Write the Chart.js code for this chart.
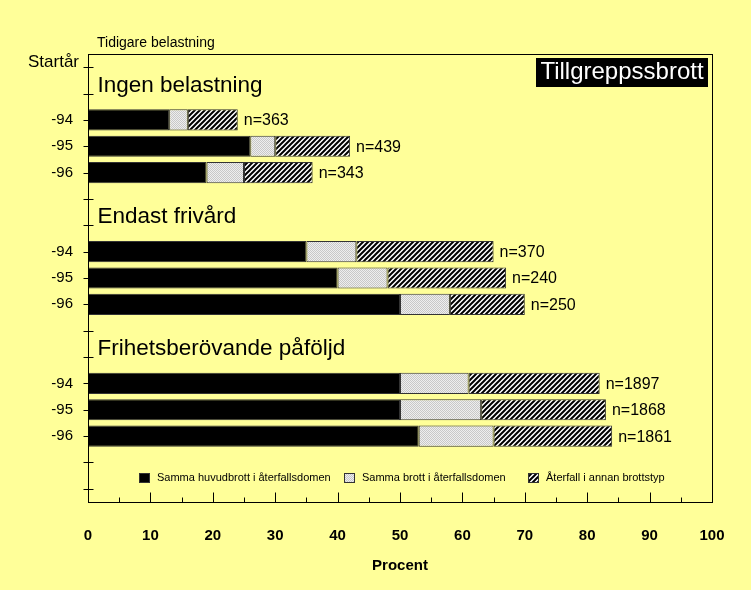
<!DOCTYPE html>
<html>
<head>
<meta charset="utf-8">
<script src="https://cdn.jsdelivr.net/npm/chart.js@4.4.1/dist/chart.umd.min.js"></script>
<style>
  body { margin: 0; background: #ffff99; }
  canvas { display: block; }
</style>
</head>
<body>
<canvas id="chart" width="751" height="590"></canvas>
<script>
const FONT = '"Liberation Sans", Arial, sans-serif';

// rows from top to bottom, the blank rows carry the group headings
const yearLabels = ['', '', '-94', '-95', '-96', '', '', '-94', '-95', '-96', '', '', '-94', '-95', '-96', '', ''];
const sammaHuvudbrott = [null, null, 13, 26, 19, null, null, 35, 40, 50, null, null, 50, 50, 53, null, null];
const sammaBrott = [null, null, 3, 4, 6, null, null, 8, 8, 8, null, null, 11, 13, 12, null, null];
const annanBrottstyp = [null, null, 8, 12, 11, null, null, 22, 19, 12, null, null, 21, 20, 19, null, null];
const nValues = [null, null, 363, 439, 343, null, null, 370, 240, 250, null, null, 1897, 1868, 1861, null, null];
const groupTitles = ['Ingen belastning', 'Endast frivård', 'Frihetsberövande påföljd'];
const groupRows = [1, 6, 11];
const seriesNames = ['Samma huvudbrott i återfallsdomen', 'Samma brott i återfallsdomen', 'Återfall i annan brottstyp'];

function dotPattern() {
  const c = document.createElement('canvas');
  c.width = 2; c.height = 2;
  const g = c.getContext('2d');
  g.fillStyle = '#eeeeee';
  g.fillRect(0, 0, 2, 2);
  g.fillStyle = '#c8c8c8';
  g.fillRect(0, 0, 1, 1);
  g.fillRect(1, 1, 1, 1);
  return g.createPattern(c, 'repeat');
}

function hatchPattern() {
  const s = 5;
  const c = document.createElement('canvas');
  c.width = s; c.height = s;
  const g = c.getContext('2d');
  g.fillStyle = '#ffffff';
  g.fillRect(0, 0, s, s);
  g.strokeStyle = '#000';
  g.lineWidth = 2;
  g.beginPath();
  g.moveTo(0, s); g.lineTo(s, 0);
  g.moveTo(-1, 1); g.lineTo(1, -1);
  g.moveTo(s - 1, s + 1); g.lineTo(s + 1, s - 1);
  g.stroke();
  return g.createPattern(c, 'repeat');
}

const fills = ['#000000', dotPattern(), hatchPattern()];

function line(g, x1, y1, x2, y2) {
  g.beginPath();
  g.moveTo(x1, y1);
  g.lineTo(x2, y2);
  g.stroke();
}

// background, frame, ticks, headings, n= labels and the legend
const decor = {
  id: 'decor',
  beforeDraw(chart) {
    const g = chart.ctx;
    g.save();
    g.fillStyle = '#ffff99';
    g.fillRect(0, 0, chart.width, chart.height);
    g.restore();
  },
  afterDraw(chart) {
    const g = chart.ctx;
    const a = chart.chartArea;
    const x = chart.scales.x;
    const y = chart.scales.y;
    g.save();
    g.strokeStyle = '#000';
    g.lineWidth = 1;
    const L = Math.round(a.left) + 0.5, R = Math.round(a.right) + 0.5;
    const T = Math.round(a.top) + 0.5, B = Math.round(a.bottom) + 0.5;
    g.strokeRect(L, T, R - L, B - T);

    for (let i = 0; i < yearLabels.length; i++) {
      const py = Math.round(y.getPixelForValue(i)) + 0.5;
      line(g, L - 5, py, L + 5, py);
    }
    for (let v = 5; v < 100; v += 5) {
      const px = Math.round(x.getPixelForValue(v)) + 0.5;
      line(g, px, B, px, B - (v % 10 === 0 ? 10 : 5));
    }

    g.fillStyle = '#000';
    g.font = '14px ' + FONT;
    g.textAlign = 'left';
    g.textBaseline = 'alphabetic';
    g.fillText('Tidigare belastning', 97, 47);

    g.font = '17px ' + FONT;
    g.textAlign = 'right';
    g.textBaseline = 'middle';
    g.fillText('Startår', 79, y.getPixelForValue(0) - 5);

    g.font = '22.5px ' + FONT;
    g.textAlign = 'left';
    g.textBaseline = 'alphabetic';
    groupTitles.forEach((t, k) => {
      g.fillText(t, L + 9, y.getPixelForValue(groupRows[k]) - 2);
    });

    // title box
    g.fillStyle = '#000';
    g.fillRect(536, 58, 172, 29);
    g.fillStyle = '#fff';
    g.font = '24px ' + FONT;
    g.textAlign = 'center';
    g.fillText('Tillgreppssbrott', 622, 79);

    // n= labels at the end of each bar
    const last = chart.getDatasetMeta(2).data;
    g.fillStyle = '#000';
    g.font = '16px ' + FONT;
    g.textAlign = 'left';
    g.textBaseline = 'middle';
    nValues.forEach((n, i) => {
      if (n === null) return;
      g.fillText('n=' + n, last[i].x + 6, last[i].y + 1);
    });

    // x axis title
    g.font = 'bold 15px ' + FONT;
    g.textAlign = 'center';
    g.fillText('Procent', (a.left + a.right) / 2, 566);

    // legend
    const legendX = [139, 344, 528];
    const ly = 478;
    g.font = '11px ' + FONT;
    g.textAlign = 'left';
    g.textBaseline = 'middle';
    seriesNames.forEach((name, k) => {
      g.fillStyle = fills[k];
      g.fillRect(legendX[k], ly - 5, 11, 10);
      g.strokeStyle = '#333';
      g.strokeRect(legendX[k] + 0.5, ly - 4.5, 10, 9);
      g.fillStyle = '#000';
      g.fillText(name, legendX[k] + 18, ly);
    });
    g.restore();
  }
};

new Chart(document.getElementById('chart'), {
  type: 'bar',
  data: {
    labels: yearLabels,
    datasets: [
      { label: seriesNames[0], data: sammaHuvudbrott, backgroundColor: fills[0] },
      { label: seriesNames[1], data: sammaBrott, backgroundColor: fills[1] },
      { label: seriesNames[2], data: annanBrottstyp, backgroundColor: fills[2] }
    ]
  },
  options: {
    indexAxis: 'y',
    responsive: false,
    animation: false,
    layout: { padding: { top: 54, right: 39, left: 0, bottom: 0 } },
    datasets: {
      bar: { borderColor: '#333', borderWidth: 1, borderSkipped: false, barPercentage: 0.8, categoryPercentage: 1 }
    },
    plugins: { legend: { display: false }, tooltip: { enabled: false } },
    scales: {
      x: {
        stacked: true, min: 0, max: 100,
        ticks: { stepSize: 10, padding: 25, color: '#000', font: { family: FONT, size: 15, weight: 'bold' } },
        grid: { display: false, drawTicks: false }, border: { display: false },
        afterFit: s => { s.height = 88; }
      },
      y: {
        stacked: true, offset: true,
        ticks: { autoSkip: false, padding: 15, color: '#000', font: { family: FONT, size: 15 } },
        grid: { display: false, drawTicks: false }, border: { display: false },
        afterFit: s => { s.width = 88; }
      }
    }
  },
  plugins: [decor]
});
</script>
</body>
</html>
